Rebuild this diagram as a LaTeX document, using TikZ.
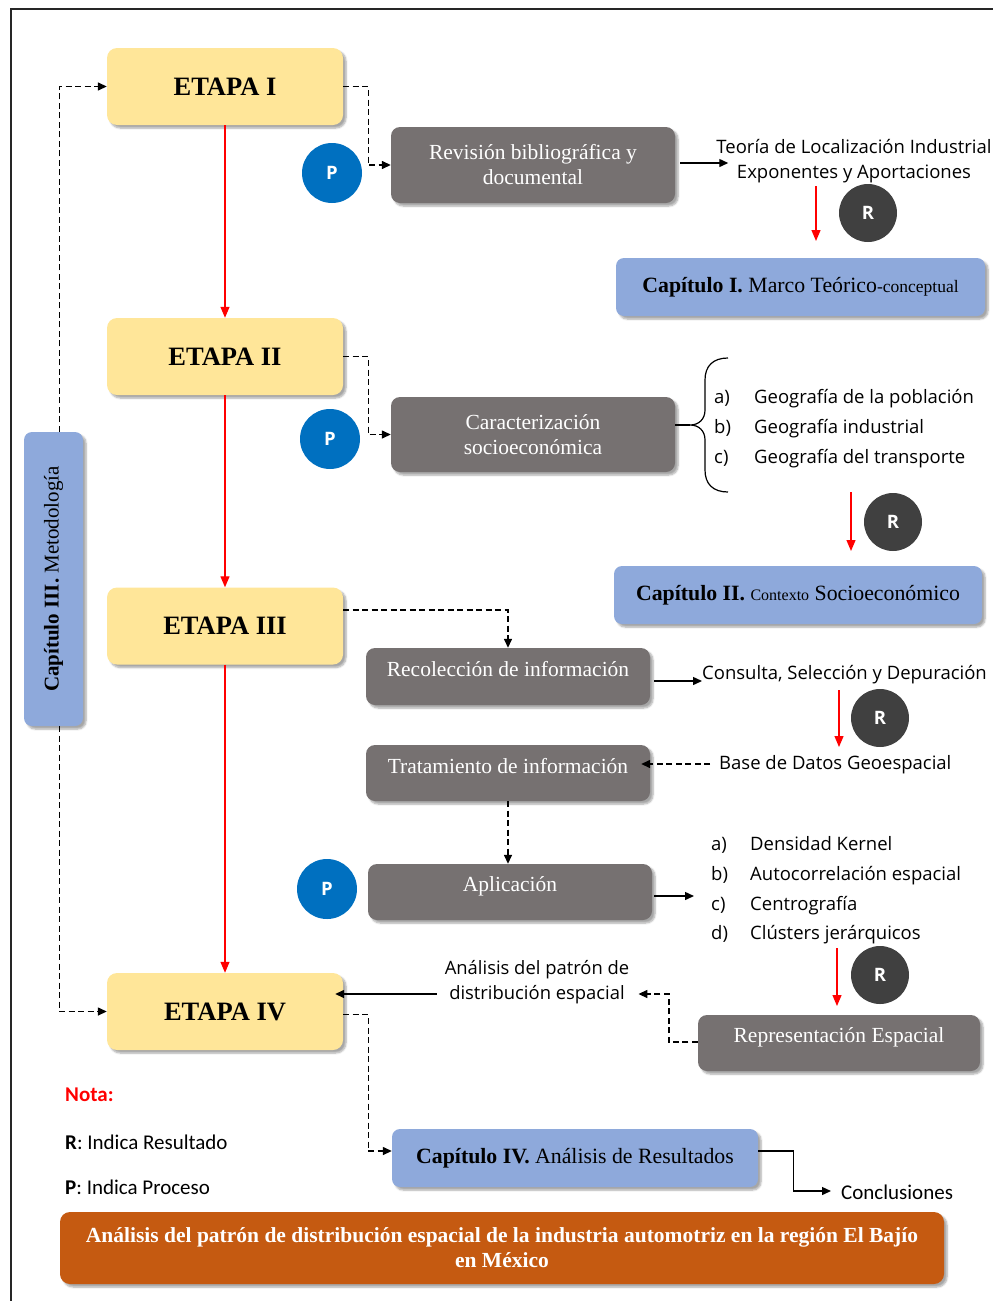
\documentclass[tikz,border=0pt]{standalone}
\usepackage{fontspec}
\usepackage{graphicx}
\setmainfont{Liberation Serif}
\newfontfamily\osans{Open Sans}
\newfontfamily\carl{Carlito}
\usetikzlibrary{arrows.meta,shadows.blur}

\definecolor{etapafill}{HTML}{FFE699}
\definecolor{capblue}{HTML}{8EA9DB}
\definecolor{procgray}{HTML}{767171}
\definecolor{pblue}{HTML}{0070C0}
\definecolor{rdark}{HTML}{404040}
\definecolor{titleorange}{HTML}{C55A11}
\definecolor{arrred}{HTML}{FF0000}

\begin{document}
\begin{tikzpicture}[x=1pt,y=-1pt,
  softshadow/.style={blur shadow={shadow xshift=3pt,shadow yshift=-3pt,shadow blur steps=6,shadow opacity=35}},
  etapabox/.style={rectangle,rounded corners=10pt,fill=etapafill,minimum width=236pt,minimum height=77pt,
    inner sep=0pt,font=\fontsize{26.5}{30}\selectfont\bfseries,softshadow},
  procbox/.style={rectangle,rounded corners=9pt,fill=procgray,text=white,minimum width=284pt,
    inner sep=0pt,align=center,font=\fontsize{21.5}{25}\selectfont,softshadow},
  raisedtext/.style={text depth=15pt},
  capbox/.style={rectangle,rounded corners=8pt,fill=capblue,minimum height=58pt,inner sep=0pt,
    font=\fontsize{21.8}{24}\selectfont,softshadow},
  pcirc/.style={circle,fill=pblue,minimum size=60pt,inner sep=0pt,text=white,font=\osans\bfseries\fontsize{18.5}{18}\selectfont},
  rcirc/.style={circle,fill=rdark,minimum size=58pt,inner sep=0pt,text=white,font=\osans\bfseries\fontsize{18.5}{18}\selectfont},
  sanstext/.style={inner sep=0pt,font=\osans\fontsize{18.5}{25}\selectfont},
  notetext/.style={inner sep=0pt,anchor=west,font=\carl\fontsize{21}{24}\selectfont},
  dashline/.style={draw=black,line width=1.4pt,dash pattern=on 6pt off 3.5pt,-{Triangle[length=9pt,width=8pt]}},
  solidline/.style={draw=black,line width=1.4pt,-{Triangle[length=9pt,width=8pt]}},
  redline/.style={draw=arrred,line width=1.3pt,-{Triangle[length=11pt,width=9pt]}}
]
\useasboundingbox (0,0) rectangle (993,1301);

% outer frame (left and top edges)
\draw[line width=1.4pt,draw=black!85] (11,1305) -- (11,9) -- (998,9);

% --- stages ---
\node[etapabox] (e1) at (225,86.5) {ETAPA I};
\node[etapabox] (e2) at (225,356.5) {ETAPA II};
\node[etapabox] (e3) at (225,626) {ETAPA III};
\node[etapabox] (e4) at (225,1011.5) {ETAPA IV};

\draw[redline] (e1.south) -- (e2.north);
\draw[redline] (e2.south) -- (e3.north);
\draw[redline] (e3.south) -- (e4.north);

% --- methodology chapter (vertical) ---
\node[capbox,minimum width=59pt,minimum height=294pt] (cap3) at (53.5,579)
  {\rotatebox{90}{\fontsize{21}{24}\selectfont\textbf{Capítulo III.} Metodología}};
\draw[dashline] ([xshift=6pt]cap3.north) |- (e1.west);
\draw[dashline] ([xshift=6pt]cap3.south) |- (e4.west);

% --- process markers ---
\node[pcirc] (p1) at (332,173) {P};
\node[pcirc] (p2) at (330,439) {P};
\node[pcirc] (p3) at (327,889) {P};

% --- process boxes ---
\node[procbox,minimum height=76pt] (rev) at (533,165) {Revisión bibliográfica y\\documental};
\node[procbox,minimum height=75pt] (carac) at (533,434.5) {Caracterización\\socioeconómica};
\node[procbox,raisedtext,minimum height=57pt] (recol) at (508,676.5) {Recolección de información};
\node[procbox,raisedtext,minimum height=56pt] (trat) at (508,773) {Tratamiento de información};
\node[procbox,raisedtext,minimum height=56pt] (aplic) at (510,892) {Aplicación};
\node[procbox,raisedtext,minimum height=56pt,minimum width=282pt] (repr) at (839,1043) {Representación Espacial};

\draw[dashline] (e1.east) -- ++(25,0) |- (rev.west);
\draw[dashline] (e2.east) -- ++(25,0) |- (carac.west);
\draw[dashline] ([yshift=16pt]e3.east) -| (recol.north);
\draw[dashline] (trat.south) -- (trat.south |- aplic.north);

% --- stage I results ---
\node[sanstext,align=center] (teoria) at (854,161) {Teoría de Localización Industrial\\Exponentes y Aportaciones};
\draw[solidline] ([xshift=5pt,yshift=2pt]rev.east) -- ([xshift=12pt,yshift=-2pt]teoria.west);
\node[rcirc] (r1) at (868,213) {R};
\coordinate (ra1) at (816,186);
\coordinate (rb1) at (816,241);
\draw[redline] (ra1) -- (rb1);
\node[capbox,minimum width=369pt] (cap1) at (800.5,287)
  {\textbf{Capítulo I.} Marco Teórico{\fontsize{17.5}{20}\selectfont -conceptual}};

% --- stage II results ---
\coordinate (btip) at (690,425);
\draw[line width=1.2pt] (728,358) .. controls (713,358) and (705,366) .. (705,380) -- (705,410)
  .. controls (705,419) and (699,425) .. (btip)
  .. controls (699,425) and (705,431) .. (705,440) -- (705,470)
  .. controls (705,484) and (713,492) .. (728,492);
\draw[line width=1.2pt] (carac.east |- btip) -- (btip);
\node[sanstext,anchor=west,align=left,font=\osans\fontsize{18.5}{30}\selectfont] (geo) at (714,429)
  {\makebox[40pt][l]{a)}Geografía de la población\\
   \makebox[40pt][l]{b)}Geografía industrial\\
   \makebox[40pt][l]{c)}Geografía del transporte};
\node[rcirc] (r2) at (893,522) {R};
\coordinate (ra2) at (851,492);
\coordinate (rb2) at (851,551);
\draw[redline] (ra2) -- (rb2);
\node[capbox,minimum width=368pt] (cap2) at (798,595)
  {\textbf{Capítulo II.} {\fontsize{16}{20}\selectfont Contexto} Socioeconómico};

% --- stage III results ---
\node[sanstext,anchor=west] (consulta) at (702,675) {Consulta, Selección y Depuración};
\draw[solidline] ([xshift=4pt,yshift=-4.5pt]recol.east) -- ([yshift=-6pt]consulta.west);
\node[rcirc] (r3) at (880,718) {R};
\coordinate (ra3) at (839,690);
\coordinate (rb3) at (839,747);
\draw[redline] (ra3) -- (rb3);
\node[sanstext,anchor=west] (base) at (719,765) {Base de Datos Geoespacial};
\draw[dashline] ([xshift=-9pt,yshift=1pt]base.west) -- ([xshift=-9pt,yshift=1pt]base.west -| trat.east);

\node[sanstext,anchor=west,align=left,font=\osans\fontsize{18.5}{29.7}\selectfont] (tech) at (711,890.5)
  {\makebox[39pt][l]{a)}Densidad Kernel\\
   \makebox[39pt][l]{b)}Autocorrelación espacial\\
   \makebox[39pt][l]{c)}Centrografía\\
   \makebox[39pt][l]{d)}Clústers jerárquicos};
\draw[solidline] ([xshift=2pt,yshift=-4pt]aplic.east) -- ([xshift=-17pt,yshift=-5.5pt]tech.west);
\node[rcirc] (r4) at (880,975) {R};
\coordinate (ra4) at (837,948);
\coordinate (rb4) at (837,1006);
\draw[redline] (ra4) -- (rb4);

% --- stage IV ---
\node[sanstext,align=center,font=\osans\fontsize{18.4}{25}\selectfont] (anal) at (537,982.5) {Análisis del patrón de\\distribución espacial};
\draw[dashline] ([yshift=1pt]repr.west) -- ++(-29,0) |- ([xshift=9pt,yshift=-11.5pt]anal.east);
\draw[solidline] ([xshift=-8pt,yshift=-11.5pt]anal.west) -- ([xshift=-8pt,yshift=-11.5pt]anal.west -| e4.east);

\node[capbox,minimum width=366pt] (cap4) at (575,1158)
  {\textbf{Capítulo IV.} Análisis de Resultados};
\draw[dashline] ([yshift=-3pt]e4.east) -- ++(25,0) |- ([yshift=7pt]cap4.west);
\node[notetext] (concl) at (841,1192) {Conclusiones};
\draw[solidline,line width=1.3pt] ([yshift=7pt]cap4.east) -- ++(35,0) |- ([xshift=-10pt,yshift=1pt]concl.west);

% --- legend ---
\node[notetext,text=arrred,font=\carl\bfseries\fontsize{21}{24}\selectfont] (nota) at (65,1095) {Nota:};
\node[notetext] (legr) at (65,1142) {\textbf{R}: Indica Resultado};
\node[notetext] (legp) at (65,1187) {\textbf{P}: Indica Proceso};

% --- title banner ---
\node[rectangle,rounded corners=10pt,fill=titleorange,minimum width=884pt,minimum height=72pt,inner sep=0pt,
  text=white,align=center,font=\bfseries\fontsize{21.5}{25}\selectfont,softshadow] (title) at (502,1248)
  {Análisis del patrón de distribución espacial de la industria automotriz en la región El Bajío\\en México};
\end{tikzpicture}
\end{document}
